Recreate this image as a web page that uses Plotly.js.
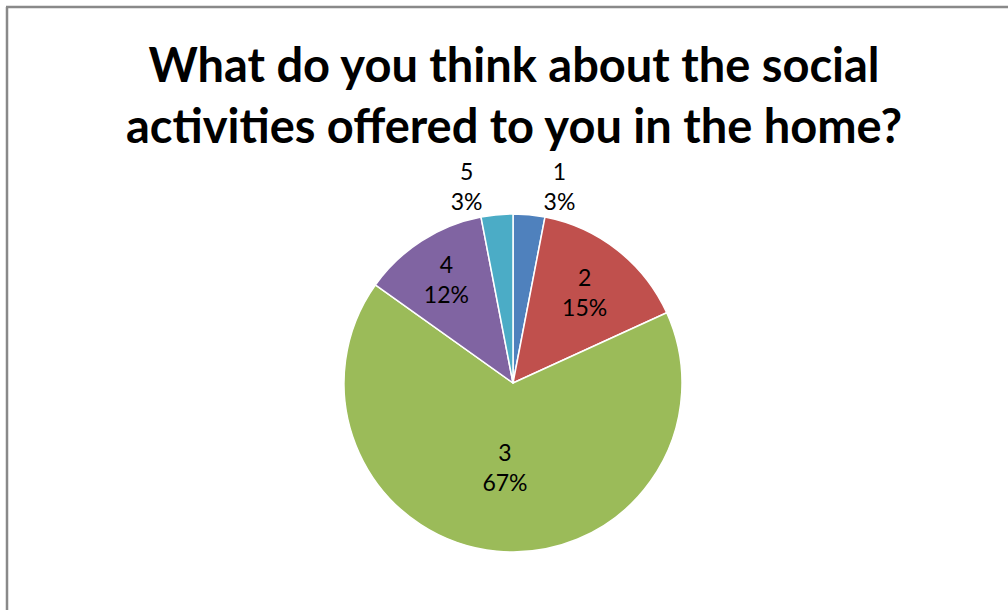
<!DOCTYPE html>
<html>
<head>
<meta charset="utf-8">
<script src="https://cdn.plot.ly/plotly-3.0.1.min.js"></script>
<style>html,body{margin:0;padding:0;background:#fff;}#chart{width:1008px;height:610px;}</style>
</head>
<body>
<div id="chart"></div>
<script>
// Ratings (1 = lowest ... 5 = highest) and response counts
const categories = ['1', '2', '3', '4', '5'];
const responses = [1, 5, 22, 4, 1];
const sliceColors = ['#4F81BD', '#C0504D', '#9BBB59', '#8064A2', '#4BACC6'];
const labelPositions = ['outside', 'inside', 'inside', 'inside', 'outside'];
const chartTitle = 'What do you think about the social<br>activities offered to you in the home?';

const W = 1008, H = 610;
const cx = 513, cy = 383, r = 169;

const trace = {
  type: 'pie',
  labels: categories,
  values: responses,
  sort: false,
  direction: 'clockwise',
  rotation: 0,
  marker: { colors: sliceColors, line: { color: '#FFFFFF', width: 1.5 } },
  texttemplate: '%{label}<br>%{percent:.0%}',
  textposition: labelPositions,
  insidetextorientation: 'horizontal',
  textfont: { family: 'Lato, "Open Sans", sans-serif', size: 23, color: '#000000' },
  hoverinfo: 'label+percent',
  showlegend: false,
  domain: {
    x: [(cx - r) / W, (cx + r) / W],
    y: [(H - cy - r) / H, (H - cy + r) / H]
  }
};

const layout = {
  width: W,
  height: H,
  margin: { l: 0, r: 0, t: 0, b: 0 },
  paper_bgcolor: '#FFFFFF',
  title: {
    text: chartTitle,
    font: { family: 'Lato, "Open Sans", sans-serif', size: 47, color: '#000000', weight: 'bold' },
    x: 514 / W,
    xanchor: 'center',
    xref: 'paper',
    yref: 'paper',
    y: 1 - 82 / H,
    yanchor: 'top'
  },
  shapes: [
    { type: 'line', xref: 'paper', yref: 'paper', x0: 7 / W, x1: 7 / W, y0: 0, y1: 1 - 7 / H,
      line: { color: '#898989', width: 2.5 } },
    { type: 'line', xref: 'paper', yref: 'paper', x0: 7 / W - 0.001, x1: 1, y0: 1 - 7 / H, y1: 1 - 7 / H,
      line: { color: '#898989', width: 2.5 } }
  ]
};

Plotly.newPlot('chart', [trace], layout, { displayModeBar: false, staticPlot: true });
</script>
</body>
</html>
